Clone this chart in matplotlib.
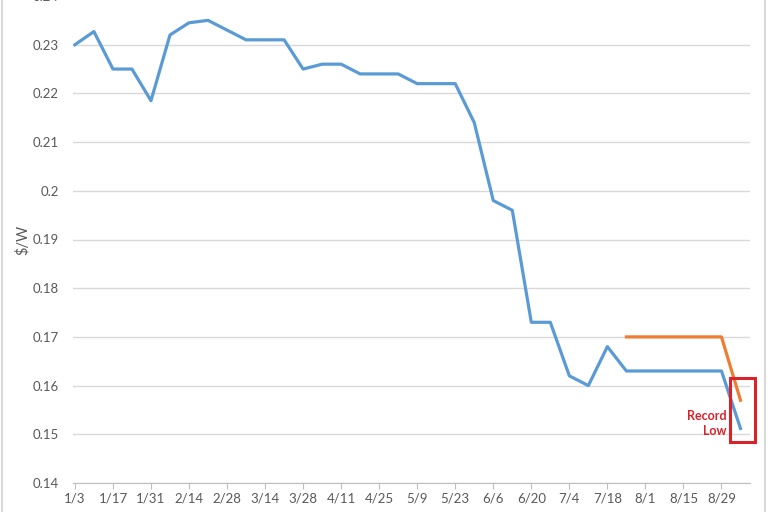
import numpy as np
import matplotlib.pyplot as plt
from matplotlib.patches import Rectangle
from matplotlib.lines import Line2D

plt.rcParams['font.family'] = ['Lato', 'DejaVu Sans']

# weekly prices, $/W (1/3 .. 9/5)
blue_vals = [0.230, 0.2327, 0.225, 0.225, 0.2185, 0.232, 0.2345, 0.235, 0.233, 0.231,
             0.231, 0.231, 0.225, 0.226, 0.226, 0.224, 0.224, 0.224, 0.222, 0.222,
             0.222, 0.214, 0.198, 0.196, 0.173, 0.173, 0.162, 0.160, 0.168, 0.163,
             0.163, 0.163, 0.163, 0.163, 0.163, 0.1512]
orange_start = 29
orange_vals = [0.170, 0.170, 0.170, 0.170, 0.170, 0.170, 0.157]
tick_labels = ['1/3', '1/17', '1/31', '2/14', '2/28', '3/14', '3/28', '4/11', '4/25',
               '5/9', '5/23', '6/6', '6/20', '7/4', '7/18', '8/1', '8/15', '8/29']
yticks = [0.14, 0.15, 0.16, 0.17, 0.18, 0.19, 0.2, 0.21, 0.22, 0.23, 0.24]

grey = '#595959'
fig = plt.figure(figsize=(7.68, 5.12), dpi=100)
ax = fig.add_axes([73 / 768, 1 - 483 / 512, (750 - 73) / 768, (483 + 4) / 512])

x = np.arange(len(blue_vals))
ax.plot(x, blue_vals, color='#5B9BD5', lw=2.3, solid_joinstyle='round')
ax.plot(np.arange(orange_start, orange_start + len(orange_vals)), orange_vals,
        color='#ED7D31', lw=2.3, solid_joinstyle='round')

ax.set_ylim(0.14, 0.24)
ax.set_xlim(-0.1, 35.5)
ax.set_yticks(yticks)
ax.set_yticklabels([f'{v:g}' for v in yticks])
ax.set_xticks(np.arange(0, 2 * len(tick_labels), 2))
ax.set_xticklabels(tick_labels)
ax.tick_params(axis='y', length=0, pad=10, labelsize=9.5, labelcolor=grey)
ax.tick_params(axis='x', length=4, color='#BFBFBF', pad=3, labelsize=9.5, labelcolor=grey)
ax.grid(axis='y', color='#D9D9D9', lw=1)
ax.set_axisbelow(True)
for s in ['left', 'right', 'top']:
    ax.spines[s].set_visible(False)
ax.spines['bottom'].set_color('#BFBFBF')
ax.set_ylabel('\\$/W', color=grey, fontsize=10.5)
ax.yaxis.set_label_coords(-0.064, 0.5)

# record low highlight
ax.add_patch(Rectangle((34.47, 0.1485), 1.27, 0.0131, fill=False,
                       edgecolor='#D9232A', lw=2.2, clip_on=False, zorder=5))
ax.text(34.25, 0.1522, 'Record\nLow', color='#D9232A', fontsize=9, fontweight='bold',
        ha='right', va='center', linespacing=1.3)

# chart frame edges
fig.add_artist(Line2D([2 / 768, 2 / 768], [0, 1], color='#D9D9D9', lw=1.5))
fig.add_artist(Line2D([765 / 768, 765 / 768], [0, 1], color='#D9D9D9', lw=1.5))

fig.savefig('out.png', dpi=100)
